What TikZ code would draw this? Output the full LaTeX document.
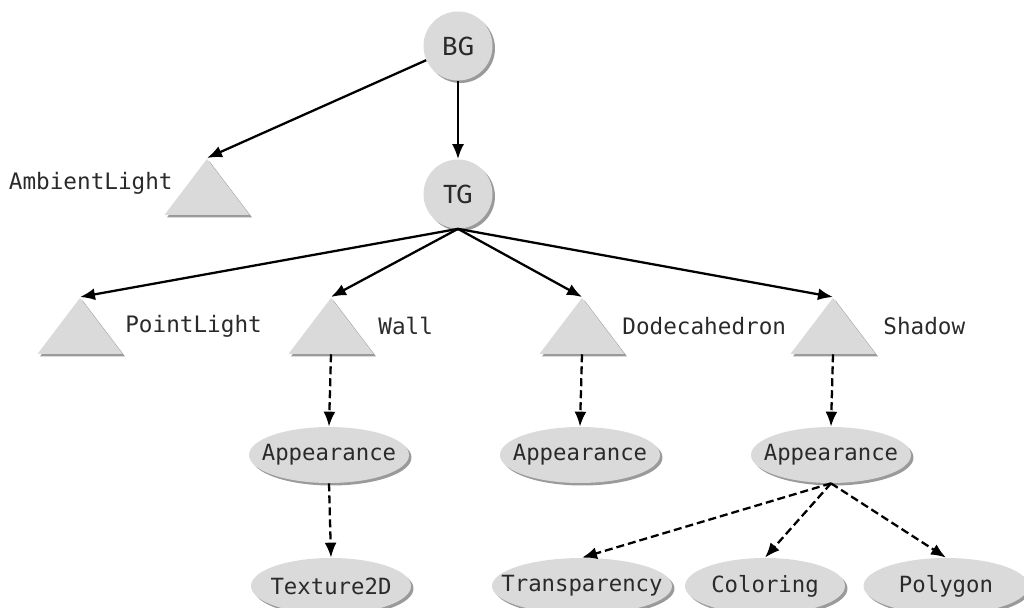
\documentclass[tikz,border=0pt]{standalone}
\usepackage{fontspec}
\setsansfont{Fira Sans}
\newfontfamily\codefont{DejaVu Sans Mono}
\usepackage{tikz}
\usetikzlibrary{arrows.meta,positioning,shapes.geometric,shadows}

\definecolor{nodegray}{HTML}{DADADA}
\definecolor{shadegray}{HTML}{9A9A9A}
\definecolor{inkgray}{HTML}{2A2A2A}

\begin{document}
\begin{tikzpicture}[
    x=0.02cm, y=-0.02cm,
    dropshade/.style={drop shadow={shadow xshift=0.05cm, shadow yshift=-0.05cm, fill=shadegray, opacity=1}},
    group/.style={circle, fill=nodegray, dropshade, minimum size=1.38cm, inner sep=0pt, font=\sffamily\fontsize{15}{17}\selectfont, text=inkgray},
    leaf/.style={isosceles triangle, shape border rotate=90, isosceles triangle stretches, fill=nodegray, dropshade, minimum width=1.7cm, minimum height=1.12cm, inner sep=0pt, anchor=apex},
    attrib/.style={ellipse, fill=nodegray, dropshade, minimum width=3.2cm, minimum height=1.12cm, inner xsep=-0.5cm, inner ysep=0pt, font=\codefont\fontsize{12.7}{14}\selectfont, text=inkgray},
    lbl/.style={inner sep=0pt, font=\codefont\fontsize{12.9}{14}\selectfont, text=inkgray},
    arrow/.style={-{Latex[length=3mm, width=2.4mm]}, line width=1.3pt},
    dasharrow/.style={arrow, dash pattern=on 1.6mm off 0.8mm}
]
\useasboundingbox (0,0) rectangle (1024,608);

% groups
\node[group] (bg) at (458,46) {BG};
\node[group] (tg) at (458,194) {TG};

% leaf nodes
\node[leaf] (amb) at (207,158) {};
\node[leaf] (plight) at (80,297) {};
\node[leaf] (wall) at (331,297) {};
\node[leaf] (dodec) at (582,297) {};
\node[leaf] (shadow) at (833,297) {};

\node[lbl, anchor=east] (ambname) at (173,183) {AmbientLight};
\node[lbl, anchor=west] (plname) at (125,326) {PointLight};
\node[lbl, anchor=west] (wallname) at (378,326) {Wall};
\node[lbl, anchor=west] (dodecname) at (622,326) {Dodecahedron};
\node[lbl, anchor=west] (shadowname) at (883,326) {Shadow};

% node components
\node[attrib] (wallapp) at (329,455) {Appearance};
\node[attrib] (dodecapp) at (580,455) {Appearance};
\node[attrib] (shadowapp) at (831,455) {Appearance};
\node[attrib] (tex) at (331,586) {Texture2D};
\node[attrib, minimum width=3.6cm] (transp) at (582,586) {Transparency};
\node[attrib] (color) at (765,586) {Coloring};
\node[attrib, minimum width=3.3cm] (poly) at (946,586) {Polygon};

\draw[arrow] (bg) -- (amb.apex);
\draw[arrow] (bg) -- (tg);
\draw[arrow] (tg.south) -- (plight.apex);
\draw[arrow] (tg.south) -- (wall.apex);
\draw[arrow] (tg.south) -- (dodec.apex);
\draw[arrow] (tg.south) -- (shadow.apex);

\draw[dasharrow] (wall.south) -- (wallapp.north);
\draw[dasharrow] (dodec.south) -- (dodecapp.north);
\draw[dasharrow] (shadow.south) -- (shadowapp.north);
\draw[dasharrow] (wallapp.south) -- (tex.north);
\draw[dasharrow] (shadowapp.south) -- (transp.north);
\draw[dasharrow] (shadowapp.south) -- (color.north);
\draw[dasharrow] (shadowapp.south) -- (poly.north);
\end{tikzpicture}
\end{document}
